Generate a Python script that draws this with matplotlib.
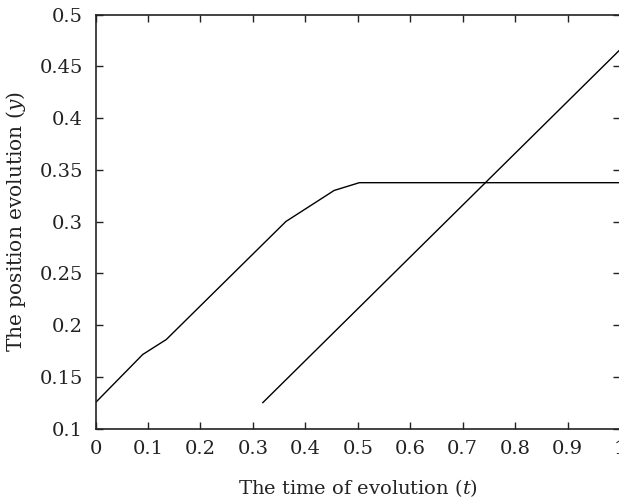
import matplotlib
matplotlib.use("Agg")
import matplotlib.pyplot as plt

# data
t1 = [0.0, 0.09, 0.135, 0.363, 0.455, 0.503, 1.0]
y1 = [0.125, 0.1715, 0.186, 0.300, 0.330, 0.3375, 0.3375]
t2 = [0.319, 1.0]
y2 = [0.125, 0.466]

xticks = [0, 0.1, 0.2, 0.3, 0.4, 0.5, 0.6, 0.7, 0.8, 0.9, 1]
xticklabels = ["0", "0.1", "0.2", "0.3", "0.4", "0.5", "0.6", "0.7", "0.8", "0.9", "1"]
yticks = [0.1, 0.15, 0.2, 0.25, 0.3, 0.35, 0.4, 0.45, 0.5]
yticklabels = ["0.1", "0.15", "0.2", "0.25", "0.3", "0.35", "0.4", "0.45", "0.5"]

plt.rcParams["font.family"] = "DejaVu Serif"
plt.rcParams["mathtext.fontset"] = "dejavuserif"

fig = plt.figure(figsize=(6.19, 5.03), dpi=100)
ax = fig.add_axes([95.5 / 619, 74.5 / 503, 524.5 / 619, 414 / 503])

ax.plot(t1, y1, color="black", lw=1.0)
ax.plot(t2, y2, color="black", lw=1.0)

ax.set_xlim(0, 1)
ax.set_ylim(0.1, 0.5)
ax.set_xticks(xticks)
ax.set_xticklabels(xticklabels)
ax.set_yticks(yticks)
ax.set_yticklabels(yticklabels)
ax.tick_params(direction="in", top=True, right=True, length=5, width=1,
               labelsize=14, colors="#222222")
ax.tick_params(axis="x", pad=8)
ax.tick_params(axis="y", pad=9)
for s in ax.spines.values():
    s.set_linewidth(1.2)
    s.set_color("#222222")

ax.set_xlabel("The time of evolution ($t$)", fontsize=14, color="#222222", labelpad=14)
ax.set_ylabel("The position evolution ($y$)", fontsize=14.5, color="#222222", labelpad=8)

fig.savefig("out.png", dpi=100)
